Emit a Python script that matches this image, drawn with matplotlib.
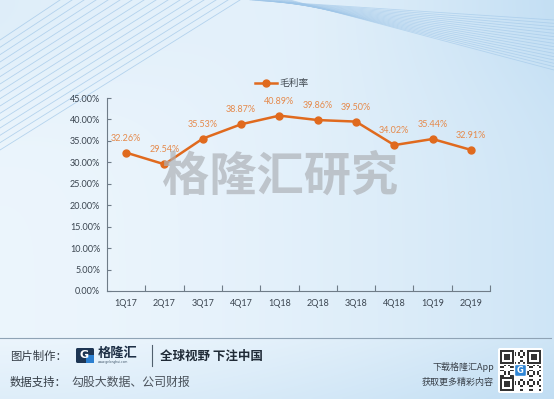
import numpy as np
import matplotlib
matplotlib.use("Agg")
import matplotlib.pyplot as plt
from matplotlib.patches import Rectangle, FancyBboxPatch

# ---- data ----
quarters = ["1Q17", "2Q17", "3Q17", "4Q17", "1Q18", "2Q18", "3Q18", "4Q18", "1Q19", "2Q19"]
gross_margin = [32.26, 29.54, 35.53, 38.87, 40.89, 39.86, 39.50, 34.02, 35.44, 32.91]
series_name = "毛利率"
yticks = [0, 5, 10, 15, 20, 25, 30, 35, 40, 45]

W, H = 554, 399
CJK = "Noto Sans CJK SC"
NUM = ["Lato", CJK]
plt.rcParams["font.family"] = [CJK, "DejaVu Sans"]

fig = plt.figure(figsize=(W / 100, H / 100), dpi=100)

# ---- background ----
bg = fig.add_axes([0, 0, 1, 1], zorder=-10)
bg.set_xlim(0, W)
bg.set_ylim(H, 0)
bg.axis("off")
xx, yy = np.meshgrid(np.linspace(0, 1, 200), np.linspace(0, 1, 150))
t = 0.12 + 0.55 * xx ** 1.8 + 0.35 * np.exp(-((yy) / 0.25) ** 2) * (np.abs(xx - 0.55) * 1.4) ** 1.2
t = t + 0.25 * np.clip(yy - 0.85, 0, 1) / 0.15
t = np.clip(t, 0, 1)[..., None]
c0 = np.array([0.95, 0.975, 0.995])
c1 = np.array([0.74, 0.86, 0.95])
img = c0 * (1 - t) + c1 * t
bg.imshow(img, extent=[0, W, H, 0], aspect="auto", interpolation="bilinear")
# decorative lines
for k in np.linspace(0, 1, 16):
    bg.plot([0, 60 + 180 * k], [40 + 110 * k, 0], color="#9fc6e8", lw=0.6, alpha=0.7)
    bg.plot([250 + 40 * k, W], [0, 20 + 50 * k], color="#9fc6e8", lw=0.6, alpha=0.6)
# footer separator
bg.plot([0, W - 3], [338, 338], color="#8fa3b5", lw=0.8)

# ---- watermark ----
fig.text(280 / W, 1 - 177 / H, "格隆汇研究", fontsize=34, fontweight="bold",
         color="#aeb2b7", alpha=0.7, ha="center", va="center", zorder=1)

# ---- chart ----
ax = fig.add_axes([107 / W, 1 - 291 / H, (490 - 107) / W, (291 - 98) / H])
ax.patch.set_alpha(0)
x = np.arange(len(quarters))
line_color = "#e06a1e"
ax.plot(x, gross_margin, color=line_color, lw=1.8, marker="o", markersize=5,
        label=series_name, zorder=3)
for xi, v in zip(x, gross_margin):
    ax.annotate(f"{v:.2f}%", (xi, v), xytext=(0, 10.5), textcoords="offset points",
                ha="center", va="center", fontsize=6.5, color="#e58a4c", family=NUM)
ax.set_xlim(-0.5, len(quarters) - 0.5)
ax.set_ylim(0, 45)
ax.set_yticks(yticks)
ax.set_yticklabels([f"{v:.2f}%" for v in yticks], family=NUM, fontsize=6.5, color="#3b4550")
ax.set_xticks(x)
ax.set_xticklabels(quarters, family=NUM, fontsize=6.5, color="#3b4550")
ax.set_xticks(np.arange(0.5, len(quarters), 1), minor=True)
ax.tick_params(axis="x", which="major", length=0, pad=6)
ax.tick_params(axis="x", which="minor", direction="in", length=4, color="#6f7c88", width=0.8)
ax.tick_params(axis="y", direction="in", length=3, color="#6f7c88", width=0.8, pad=5)
for s in ["top", "right"]:
    ax.spines[s].set_visible(False)
for s in ["left", "bottom"]:
    ax.spines[s].set_color("#6f7c88")
    ax.spines[s].set_linewidth(0.8)

leg = ax.legend(loc="center", bbox_to_anchor=((262 + 20 - 107) / (490 - 107), (291 - 83) / (291 - 98)),
                frameon=False, fontsize=7, handlelength=2.2, handletextpad=0.3,
                borderpad=0, borderaxespad=0)
for txt in leg.get_texts():
    txt.set_color("#404850")

# ---- footer ----
def ftext(px, py, s, **kw):
    fig.text(px / W, 1 - py / H, s, **kw)

ftext(10, 356, "图片制作：", fontsize=8.2, color="#333b44", va="center", ha="left")
ftext(10, 382, "数据支持：", fontsize=8.2, color="#333b44", va="center", ha="left")
ftext(72, 382, "勾股大数据、公司财报", fontsize=8.6, color="#4a525b", va="center", ha="left")

# logo
bg.add_patch(FancyBboxPatch((76, 348), 18, 15, boxstyle="round,pad=0,rounding_size=1.5",
                            fc="#1d3553", ec="none"))
bg.add_patch(Rectangle((86, 355), 8, 8, fc="#2b7fd0", ec="none"))
ftext(84, 355.5, "G", fontsize=8, fontweight="bold", color="white", va="center", ha="center",
      family=["DejaVu Sans"])
ftext(98, 353, "格隆汇", fontsize=9.5, fontweight="bold", color="#1d2f45", va="center", ha="left")
ftext(98, 362, "www.gelonghui.com", fontsize=2.2, color="#40556a", va="center", ha="left",
      family=["DejaVu Sans"])
bg.plot([152, 152], [345, 366], color="#51606e", lw=0.8)
ftext(160, 356, "全球视野 下注中国", fontsize=9, fontweight="bold", color="#1f2a36",
      va="center", ha="left")

ftext(494, 367, "下载格隆汇App", fontsize=6.5, color="#3a424b", va="center", ha="right")
ftext(494, 382, "获取更多精彩内容", fontsize=6.5, color="#3a424b", va="center", ha="right")

# QR code decoration
qx, qy, qs = 498, 348, 45
bg.add_patch(FancyBboxPatch((qx, qy), qs, qs, boxstyle="round,pad=0,rounding_size=2",
                            fc="white", ec="none"))
n = 21
cell = (qs - 4) / n
for i in range(n):
    for j in range(n):
        on = ((i * 7 + j * 11 + i * j) % 5) < 2
        if on:
            bg.add_patch(Rectangle((qx + 2 + j * cell, qy + 2 + i * cell), cell, cell,
                                   fc="#333333", ec="none"))
for (fi, fj) in [(0, 0), (0, n - 7), (n - 7, 0)]:
    x0, y0 = qx + 2 + fj * cell, qy + 2 + fi * cell
    bg.add_patch(Rectangle((x0 - 0.5, y0 - 0.5), 8 * cell, 8 * cell, fc="white", ec="none"))
    bg.add_patch(Rectangle((x0, y0), 7 * cell, 7 * cell, fc="#333333", ec="none"))
    bg.add_patch(Rectangle((x0 + cell, y0 + cell), 5 * cell, 5 * cell, fc="white", ec="none"))
    bg.add_patch(Rectangle((x0 + 2 * cell, y0 + 2 * cell), 3 * cell, 3 * cell, fc="#333333", ec="none"))
bg.add_patch(FancyBboxPatch((qx + qs / 2 - 6, qy + qs / 2 - 6), 12, 12,
                            boxstyle="round,pad=0,rounding_size=1.5", fc="#2f86d6", ec="white", lw=1))
ftext(qx + qs / 2, qy + qs / 2, "G", fontsize=6, fontweight="bold", color="white",
      va="center", ha="center", family=["DejaVu Sans"])

fig.savefig("out.png", dpi=100)
